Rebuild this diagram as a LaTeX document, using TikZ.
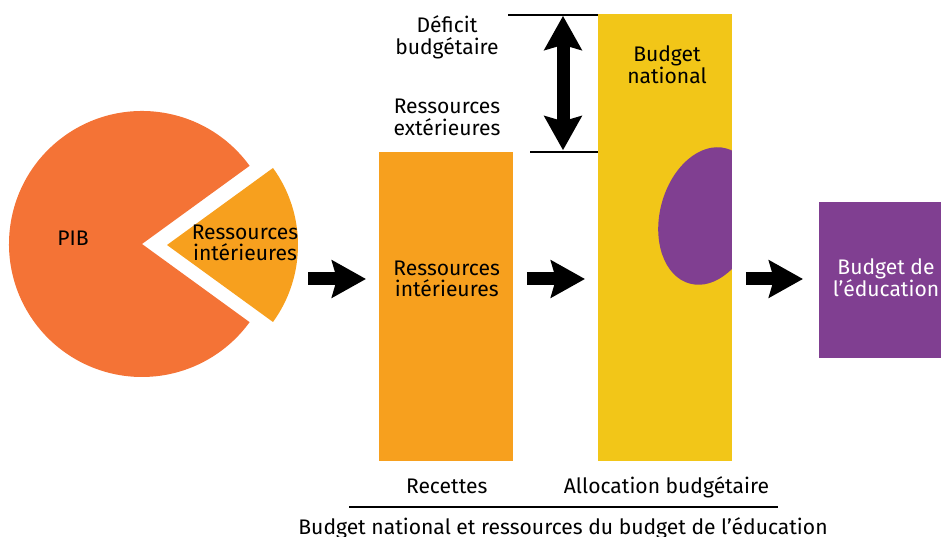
\documentclass[tikz,border=0pt]{standalone}
\usepackage{fontspec}
\setmainfont{Fira Sans}
\usetikzlibrary{positioning,calc,arrows.meta}
\definecolor{pibred}{RGB}{244,115,54}
\definecolor{resorange}{RGB}{247,160,30}
\definecolor{natyellow}{RGB}{242,198,24}
\definecolor{edupurple}{RGB}{128,63,145}

\begin{document}
\begin{tikzpicture}[x=0.02cm, y=0.02cm,
  lbl/.style={align=center, font=\fontsize{12}{12.3}\selectfont, inner sep=0pt},
  bar/.style={minimum width=2.68cm, inner sep=0pt, outer sep=0pt},
  blockarrow/.style={line width=0.26cm, -{Stealth[length=0.68cm, width=0.74cm, inset=0.1cm]}},
  dblarrow/.style={line width=0.26cm, {Stealth[length=0.68cm, width=0.74cm, inset=0.1cm]}-{Stealth[length=0.68cm, width=0.74cm, inset=0.1cm]}},
  rule/.style={line width=0.6pt}]
\clip (0,0) rectangle (941,537);

% PIB pie and its detached slice
\fill[pibred] (142,293) -- ++(36:133) arc[start angle=36, end angle=324, radius=133] -- cycle;
\fill[resorange] (167,292) -- ++(-36:131) arc[start angle=-36, end angle=36, radius=131] -- cycle;
\node[lbl] (pib) at (73,299) {PIB};
\node[lbl] (pieres) at (245,294) {Ressources\\intérieures};

% Bars
\node[bar, fill=resorange, minimum height=6.18cm] (recbar) at (446,230.5) {};
\node[bar, fill=natyellow, minimum height=8.94cm] (allocbar) at (665,299.5) {};
\node[bar, fill=edupurple, minimum height=3.12cm] (edubox) at (886,257) {};

% Education share inside the national budget
\begin{scope}
  \clip (allocbar.south west) rectangle (allocbar.north east);
  \fill[edupurple, rotate around={-15:(708,321)}] (708,321) ellipse[x radius=48, y radius=70];
\end{scope}

% Bar labels
\node[lbl] (bartxt) at (446.7,258) {Ressources\\intérieures};
\node[lbl] (nattxt) at (667,472) {Budget\\national};
\node[lbl, text=white] (edutxt) at (886,259) {Budget de\\l’éducation};

% Deficit
\node[lbl] (deftxt) at (447,499.5) {Déficit\\budgétaire};
\node[lbl] (exttxt) at (447,419.5) {Ressources\\extérieures};
\coordinate (deftop) at (563,522);
\coordinate (defbot) at (563,385);
\draw[rule] (508,522) -- (deftop) -- (allocbar.west |- deftop);
\draw[rule] (530,385) -- (defbot) -- (allocbar.west |- defbot);
\draw[dblarrow] ([yshift=-0.5pt]deftop) -- ([yshift=1pt]defbot);

% Flow arrows
\coordinate (row) at (0,258);
\draw[blockarrow] ($(recbar.west |- row)+(-71,0)$) -- ($(recbar.west |- row)+(-13,0)$);
\draw[blockarrow] ($(recbar.east |- row)+(14,0)$) -- ($(allocbar.west |- row)+(-13,0)$);
\draw[blockarrow] ($(allocbar.east |- row)+(14,0)$) -- ($(edubox.west |- row)+(-16,0)$);

% Captions
\node[lbl] (rectxt) at (446.7,51) {Recettes};
\node[lbl] (alloctxt) at (666.5,50) {Allocation budgétaire};
\draw[rule] (349,30) -- (777.5,30);
\node[lbl] (title) at (563,9) {Budget national et ressources du budget de l’éducation};
\end{tikzpicture}
\end{document}
